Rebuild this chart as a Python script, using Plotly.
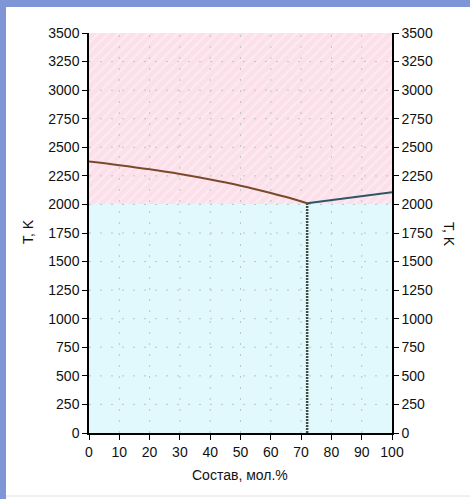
import plotly.graph_objects as go

# --- data ---
liquid_left_x = [0, 10, 20, 30, 40, 50, 60, 66, 72]
liquid_left_T = [2375, 2343, 2307, 2266, 2218, 2164, 2100, 2058, 2010]
liquid_right_x = [72, 100]
liquid_right_T = [2010, 2106]
eutectic_x = [72, 72]
eutectic_T = [0, 2010]
# phase regions (lower, upper temperature bounds)
solid_region = [0, 2000]
liquid_region = [2000, 3500]
x_ticks = [0, 10, 20, 30, 40, 50, 60, 70, 80, 90, 100]
y_ticks = [0, 250, 500, 750, 1000, 1250, 1500, 1750, 2000, 2250, 2500, 2750, 3000, 3250, 3500]

L, R, T, B = 89, 78, 33, 66
W, H = 470, 499
pw, ph = W - L - R, H - T - B

def px(xp):
    return (xp - L) / pw

def py(yp):
    return (H - B - yp) / ph

fig = go.Figure()

# background phase regions
fig.add_trace(go.Bar(x=[50], y=[solid_region[1] - solid_region[0]], base=[solid_region[0]], width=[100],
                     marker=dict(color="#e1f8fc", line=dict(width=0)), hoverinfo="skip", showlegend=False))
fig.add_trace(go.Bar(x=[50], y=[liquid_region[1] - liquid_region[0]], base=[liquid_region[0]], width=[100],
                     marker=dict(color="#fbdfe9", line=dict(width=0),
                                 pattern=dict(shape="/", fgcolor="#fff4f7", bgcolor="#fbdfe9",
                                              size=7, solidity=0.35)),
                     hoverinfo="skip", showlegend=False))

# dotted grid drawn above the regions
gx, gy = [], []
for xv in x_ticks[1:-1]:
    gx += [xv, xv, None]
    gy += [y_ticks[0], y_ticks[-1], None]
for yv in y_ticks[1:-1]:
    gx += [x_ticks[0], x_ticks[-1], None]
    gy += [yv, yv, None]
fig.add_trace(go.Scatter(x=gx, y=gy, mode="lines", line=dict(color="#bcc6ca", width=1, dash="2px,9px"),
                         hoverinfo="skip", showlegend=False))

fig.add_trace(go.Scatter(x=eutectic_x, y=eutectic_T, mode="lines",
                         line=dict(color="#3f4d40", width=2.5, dash="2px,1px"), showlegend=False))
fig.add_trace(go.Scatter(x=liquid_left_x, y=liquid_left_T, mode="lines", line_shape="spline",
                         line=dict(color="#7b4a2c", width=2), showlegend=False))
fig.add_trace(go.Scatter(x=liquid_right_x, y=liquid_right_T, mode="lines",
                         line=dict(color="#2b5866", width=2), showlegend=False))
# invisible trace for right axis
fig.add_trace(go.Scatter(x=[0], y=[0], yaxis="y2", mode="markers", marker=dict(opacity=0),
                         hoverinfo="skip", showlegend=False))

font = dict(family="Liberation Sans, Arial, sans-serif", size=14, color="#111111")

fig.update_layout(
    width=W, height=H,
    margin=dict(l=L, r=R, t=T, b=B),
    paper_bgcolor="white", plot_bgcolor="white",
    bargap=0, barmode="overlay",
    font=font,
    xaxis=dict(range=[0, 100], tickvals=x_ticks, showgrid=False, zeroline=False,
               showline=True, linecolor="black", linewidth=1.5, ticks="outside", ticklen=5,
               tickcolor="black", tickfont=font),
    yaxis=dict(range=[0, 3500], tickvals=y_ticks, showgrid=False, zeroline=False,
               showline=True, linecolor="black", linewidth=1.5, ticks="outside", ticklen=5,
               tickcolor="black", tickfont=font),
    yaxis2=dict(range=[0, 3500], tickvals=y_ticks, overlaying="y", side="right", showgrid=False,
                zeroline=False, showline=True, linecolor="black", linewidth=1.5, ticks="outside",
                ticklen=5, tickcolor="black", tickfont=font),
    shapes=[
        dict(type="rect", xref="paper", yref="paper", x0=px(0), x1=px(W), y0=py(0), y1=py(7),
             fillcolor="#7e96d6", line=dict(width=0), layer="below"),
        dict(type="rect", xref="paper", yref="paper", x0=px(0), x1=px(6), y0=py(0), y1=py(H),
             fillcolor="#7e96d6", line=dict(width=0), layer="below"),
        dict(type="line", xref="paper", yref="paper", x0=px(6), x1=px(W), y0=py(496), y1=py(496),
             line=dict(color="#e0e0e0", width=1), layer="below"),
    ],
    annotations=[
        dict(text="T, K", xref="paper", yref="paper", x=px(28), y=py(232), showarrow=False,
             textangle=-90, font=font, xanchor="center", yanchor="middle"),
        dict(text="T, K", xref="paper", yref="paper", x=px(449), y=py(234), showarrow=False,
             textangle=90, font=font, xanchor="center", yanchor="middle"),
        dict(text="Состав, мол.%", xref="paper", yref="paper", x=px(240), y=py(475), showarrow=False,
             font=font, xanchor="center", yanchor="middle"),
    ],
)

fig.write_html("out.html")
